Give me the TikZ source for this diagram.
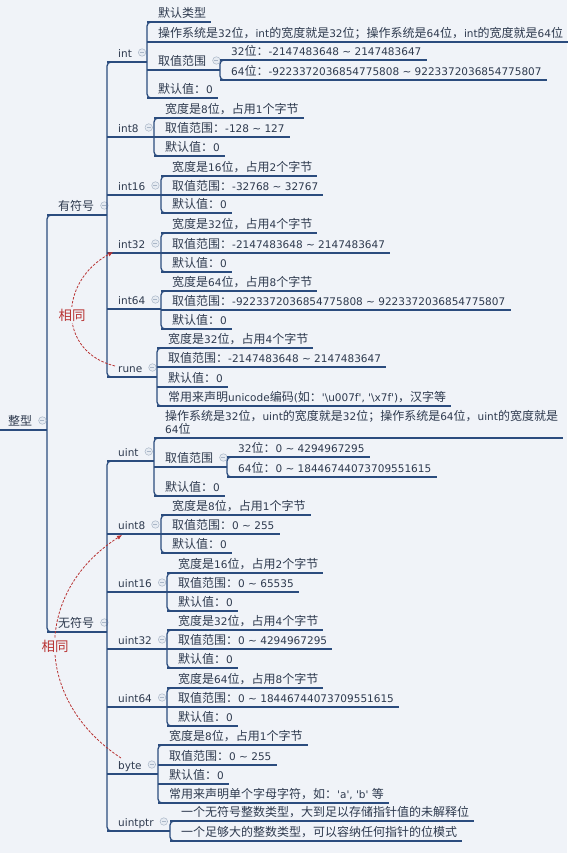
\documentclass[tikz,border=0pt]{standalone}
\usepackage{fontspec}
\setmainfont{DejaVu Sans}[Ligatures=TeXOff]
\newfontfamily\cjkfam[Scale=1.143]{Noto Sans CJK SC}
\usetikzlibrary{arrows.meta}
\XeTeXinterchartokenstate=1
\newcount\cjkcnt
\cjkcnt="2E80
\loop\XeTeXcharclass\cjkcnt=7 \advance\cjkcnt by 1 \ifnum\cjkcnt<"A000 \repeat
\cjkcnt="FF00
\loop\XeTeXcharclass\cjkcnt=7 \advance\cjkcnt by 1 \ifnum\cjkcnt<"FFF0 \repeat
\XeTeXinterchartoks 0 7 = {\cjkfam}
\XeTeXinterchartoks 4095 7 = {\cjkfam}
\XeTeXinterchartoks 7 0 = {\rmfamily}
\XeTeXinterchartoks 7 4095 = {\rmfamily}
\definecolor{bg}{HTML}{F0F3F8}
\definecolor{txtc}{HTML}{2E3A4E}
\definecolor{linec}{HTML}{2B4C7E}
\definecolor{samec}{HTML}{B83232}
\definecolor{iconf}{HTML}{E6EBF2}
\definecolor{icond}{HTML}{A9B6C7}
\newcommand\mmleaf[5]{%
  \node[txt] (#1) at (#3,#4-4.5) {#5};
  \draw[ln] (#2,#4) -- ([shift={(5,4.5)}]#1.base east);}
\newcommand\mmpar[6]{%
  \node[txt] (#1) at (#3,#4-4.5) {#6};
  \draw[ln] (#2,#4) -- (#5,#4);
  \node[colicon] (#1-c) at ([shift={(10,-5)}]#1.base east) {};
  \draw[icond, line width=0.7pt] ([xshift=-2pt]#1-c.center) -- ([xshift=2pt]#1-c.center);}
\newcommand\mmbar[3]{%
  \draw[ln, rounded corners=4pt] (#1+6,#2) -- (#1,#2) -- (#1,#3) -- (#1+6,#3);}
\begin{document}
\begin{tikzpicture}[x=1pt,y=-1pt,
  txt/.style={anchor=base west, inner sep=0pt, text=txtc, font=\fontsize{10.5}{13}\selectfont},
  ln/.style={draw=linec, line width=1.3pt},
  colicon/.style={circle, draw=icond, fill=iconf, minimum size=7.5pt, inner sep=0pt, line width=0.5pt},
  samearrow/.style={draw=samec, line width=0.8pt, dash pattern=on 2.5pt off 1.5pt, -{Latex[length=5pt,width=4.5pt]}},
  samelbl/.style={text=samec, fill=bg, inner sep=1.5pt, font=\fontsize{11.8}{14}\selectfont\cjkfam}
]
\fill[bg] (0,0) rectangle (567,853);
\useasboundingbox (0,0) rectangle (567,853);

% root and level 1
\mmbar{47}{215}{632}
\mmpar{root}{0}{8}{430}{47}{整型}
\mmpar{sgn}{47}{58}{215}{107}{有符号}
\mmpar{usg}{47}{58}{632}{107}{无符号}

% signed
\mmbar{107}{62}{377}
\mmpar{int}{107}{118}{62}{147}{int}
\mmpar{i8}{107}{118}{137}{154}{int8}
\mmpar{i16}{107}{118}{195}{161}{int16}
\mmpar{i32}{107}{118}{253}{161}{int32}
\mmpar{i64}{107}{118}{309}{161}{int64}
\mmpar{rune}{107}{118}{377}{157}{rune}

% int
\mmbar{147}{22}{98}
\mmleaf{inta}{147}{158}{22}{默认类型}
\mmleaf{intb}{147}{158}{42}{操作系统是32位，int的宽度就是32位；操作系统是64位，int的宽度就是64位}
\mmpar{intr}{147}{158}{70}{220}{取值范围}
\mmleaf{intd}{147}{158}{98}{默认值：0}
\mmbar{220}{60}{80}
\mmleaf{intra}{220}{231}{60}{32位：-2147483648 \textasciitilde{} 2147483647}
\mmleaf{intrb}{220}{231}{80}{64位：-9223372036854775808 \textasciitilde{} 9223372036854775807}

% int8
\mmbar{154}{118}{156}
\mmleaf{i8a}{154}{165}{118}{宽度是8位，占用1个字节}
\mmleaf{i8b}{154}{165}{137}{取值范围：-128 \textasciitilde{} 127}
\mmleaf{i8c}{154}{165}{156}{默认值：0}

% int16
\mmbar{161}{176}{213}
\mmleaf{i16a}{161}{172}{176}{宽度是16位，占用2个字节}
\mmleaf{i16b}{161}{172}{195}{取值范围：-32768 \textasciitilde{} 32767}
\mmleaf{i16c}{161}{172}{213}{默认值：0}

% int32
\mmbar{161}{233}{272}
\mmleaf{i32a}{161}{172}{233}{宽度是32位，占用4个字节}
\mmleaf{i32b}{161}{172}{253}{取值范围：-2147483648 \textasciitilde{} 2147483647}
\mmleaf{i32c}{161}{172}{272}{默认值：0}

% int64
\mmbar{161}{291}{329}
\mmleaf{i64a}{161}{172}{291}{宽度是64位，占用8个字节}
\mmleaf{i64b}{161}{172}{310}{取值范围：-9223372036854775808 \textasciitilde{} 9223372036854775807}
\mmleaf{i64c}{161}{172}{329}{默认值：0}

% rune
\mmbar{157}{348}{406}
\mmleaf{runea}{157}{168}{348}{宽度是32位，占用4个字节}
\mmleaf{runeb}{157}{168}{367}{取值范围：-2147483648 \textasciitilde{} 2147483647}
\mmleaf{runec}{157}{168}{387}{默认值：0}
\mmleaf{runed}{157}{168}{406}{常用来声明unicode编码(如：'\textbackslash u007f', '\textbackslash x7f')，汉字等}

% unsigned
\mmbar{107}{461}{831}
\mmpar{uint}{107}{118}{461}{154}{uint}
\mmpar{u8}{107}{118}{534}{161}{uint8}
\mmpar{u16}{107}{118}{592}{167}{uint16}
\mmpar{u32}{107}{118}{649}{167}{uint32}
\mmpar{u64}{107}{118}{707}{167}{uint64}
\mmpar{byte}{107}{118}{774}{158}{byte}
\mmpar{uptr}{107}{118}{831}{170}{uintptr}

% uint
\mmbar{154}{438}{496}
\node[txt] (uinta) at (165,420.5) {操作系统是32位，uint的宽度就是32位；操作系统是64位，uint的宽度就是};
\node[txt] (uintb) at (165,433.5) {64位};
\draw[ln] (154,438) -- ([shift={(5,17.5)}]uinta.base east);
\mmpar{uintr}{154}{165}{467}{227}{取值范围}
\mmleaf{uintd}{154}{165}{496}{默认值：0}
\mmbar{227}{457}{477}
\mmleaf{uintra}{227}{238}{457}{32位：0 \textasciitilde{} 4294967295}
\mmleaf{uintrb}{227}{238}{477}{64位：0 \textasciitilde{} 18446744073709551615}

% uint8
\mmbar{161}{515}{553}
\mmleaf{u8a}{161}{172}{515}{宽度是8位，占用1个字节}
\mmleaf{u8b}{161}{172}{534}{取值范围：0 \textasciitilde{} 255}
\mmleaf{u8c}{161}{172}{553}{默认值：0}

% uint16
\mmbar{167}{573}{611}
\mmleaf{u16a}{167}{178}{573}{宽度是16位，占用2个字节}
\mmleaf{u16b}{167}{178}{592}{取值范围：0 \textasciitilde{} 65535}
\mmleaf{u16c}{167}{178}{611}{默认值：0}

% uint32
\mmbar{167}{630}{668}
\mmleaf{u32a}{167}{178}{630}{宽度是32位，占用4个字节}
\mmleaf{u32b}{167}{178}{649}{取值范围：0 \textasciitilde{} 4294967295}
\mmleaf{u32c}{167}{178}{668}{默认值：0}

% uint64
\mmbar{167}{688}{726}
\mmleaf{u64a}{167}{178}{688}{宽度是64位，占用8个字节}
\mmleaf{u64b}{167}{178}{707}{取值范围：0 \textasciitilde{} 18446744073709551615}
\mmleaf{u64c}{167}{178}{726}{默认值：0}

% byte
\mmbar{158}{745}{803}
\mmleaf{bytea}{158}{169}{745}{宽度是8位，占用1个字节}
\mmleaf{byteb}{158}{169}{765}{取值范围：0 \textasciitilde{} 255}
\mmleaf{bytec}{158}{169}{784}{默认值：0}
\mmleaf{byted}{158}{169}{803}{常用来声明单个字母字符，如：'a', 'b' 等}

% uintptr
\mmbar{170}{821}{841}
\mmleaf{uptra}{170}{181}{821}{一个无符号整数类型，大到足以存储指针值的未解释位}
\mmleaf{uptrb}{170}{181}{841}{一个足够大的整数类型，可以容纳任何指针的位模式}

% "same" arrows
\draw[samearrow] ([shift={(-3,-6.5)}]rune.base west) .. controls (58,352) and (58,282) .. node[samelbl]{相同} ([shift={(-5,3.5)}]i32.base west);
\draw[samearrow] ([shift={(3,-11.5)}]byte.base west) .. controls (33,700) and (33,592) .. node[samelbl]{相同} ([shift={(4,5.5)}]u8.base west);
\end{tikzpicture}
\end{document}
